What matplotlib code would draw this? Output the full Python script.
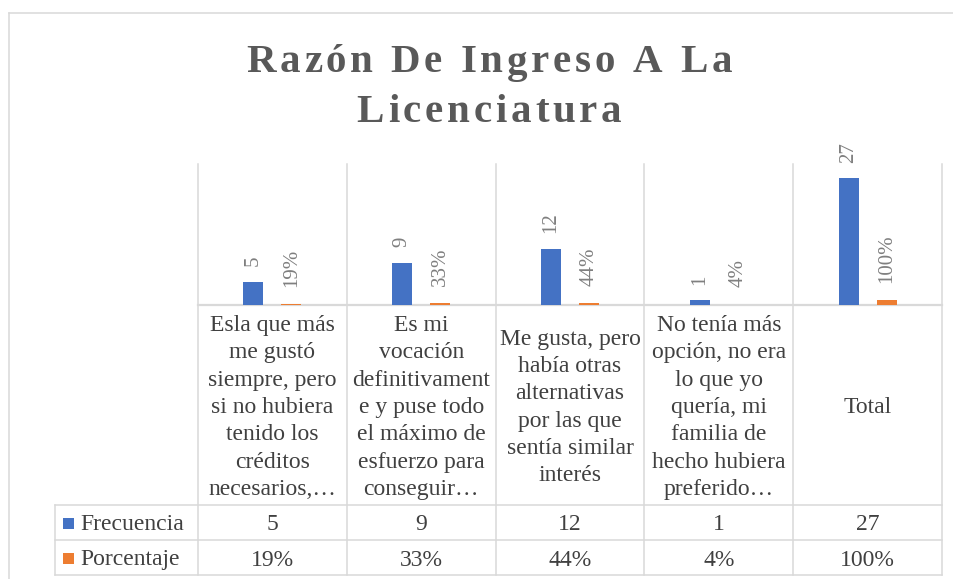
import matplotlib
matplotlib.use("Agg")
import matplotlib.pyplot as plt
from matplotlib.patches import Rectangle
from matplotlib.font_manager import FontProperties, findfont
from matplotlib.ft2font import FT2Font

# ---------------- data ----------------
categories = [
    "Esla que más\nme gustó\nsiempre, pero\nsi no hubiera\ntenido los\ncréditos\nnecesarios,…",
    "Es mi\nvocación\ndefinitivament\ne y puse todo\nel máximo de\nesfuerzo para\nconseguir…",
    "Me gusta, pero\nhabía otras\nalternativas\npor las que\nsentía similar\ninterés",
    "No tenía más\nopción, no era\nlo que yo\nquería, mi\nfamilia de\nhecho hubiera\npreferido…",
    "Total",
]
series_names = ["Frecuencia", "Porcentaje"]
frecuencia = [5, 9, 12, 1, 27]
porcentaje = [0.19, 0.33, 0.44, 0.04, 1.00]
title_lines = ["Razón De Ingreso A La", "Licenciatura"]

# ---------------- style ----------------
W, H = 954, 579
FONT = "Liberation Serif"
BLUE = "#4472C4"
ORANGE = "#ED7D31"
GRID = "#D9D9D9"
TXT = "#404040"
LBL = "#7F7F7F"
TITLE_C = "#595959"

plt.rcParams["font.family"] = [FONT, "DejaVu Sans"]

fig = plt.figure(figsize=(W / 100, H / 100), dpi=100)
fig.patch.set_facecolor("white")

# overlay in pixel coordinates
ov = fig.add_axes([0, 0, 1, 1])
ov.set_xlim(0, W)
ov.set_ylim(H, 0)
ov.axis("off")

# plot area geometry (pixels)
PL, PR, PT, PB = 198, 942, 164, 305
ROW1, ROW2, ROW3 = 505, 540, 575
SER_L = 55
n = len(categories)
cw = (PR - PL) / n

ax = fig.add_axes([PL / W, (H - PB) / H, (PR - PL) / W, (PB - PT) / H])
ax.set_xlim(-0.5, n - 0.5)
ax.set_ylim(0, 30)
ax.axis("off")
ax.patch.set_alpha(0)

bw = 0.135
off = 0.128
xs = list(range(n))
ax.bar([x - off for x in xs], frecuencia, width=bw, color=BLUE, zorder=3)
ax.bar([x + off for x in xs], porcentaje, width=bw, color=ORANGE, zorder=3)

for x, v in zip(xs, frecuencia):
    ax.annotate(f"{v}", (x - off, v), xytext=(0, 11), textcoords="offset points",
                rotation=90, ha="center", va="bottom", fontsize=15, color=LBL,
                fontfamily=FONT)
for x, v in zip(xs, porcentaje):
    ax.annotate(f"{v:.0%}", (x + off, v), xytext=(0, 12.5), textcoords="offset points",
                rotation=90, ha="center", va="bottom", fontsize=15, color=LBL,
                fontfamily=FONT)

# ---------------- grid / table lines ----------------
lw = 1.1
ov.plot([9.5, 9.5], [13, H], color=GRID, lw=lw)
ov.plot([9.5, W], [13, 13], color=GRID, lw=lw)
for i in range(n + 1):
    x = PL + i * cw
    ov.plot([x, x], [PT, ROW3], color=GRID, lw=lw, zorder=1)
ov.plot([PL, PR], [PB, PB], color=GRID, lw=1.6, zorder=1)
for y in (ROW1, ROW2, ROW3):
    ov.plot([SER_L, PR], [y, y], color=GRID, lw=lw, zorder=1)
ov.plot([SER_L, SER_L], [ROW1, ROW3], color=GRID, lw=lw, zorder=1)

# ---------------- category text ----------------
LINE = 27.3
cell_mid = (PB + ROW1) / 2 + 8
for i, cat in enumerate(categories):
    lines = cat.split("\n")
    cx = PL + (i + 0.5) * cw
    m = len(lines)
    for j, ln in enumerate(lines):
        y = cell_mid + (j - (m - 1) / 2) * LINE
        ov.text(cx, y, ln, ha="center", va="baseline", fontsize=17, color=TXT,
                fontfamily=FONT)

# ---------------- table rows ----------------
rows = [(frecuencia, lambda v: f"{v}"), (porcentaje, lambda v: f"{v:.0%}")]
row_tops = [ROW1, ROW2]
colors = [BLUE, ORANGE]
for r, ((vals, fmt), top) in enumerate(zip(rows, row_tops)):
    base = top + 17.5 + 8
    ov.add_patch(Rectangle((63, top + 13), 11, 11, color=colors[r], lw=0))
    ov.text(80, base, series_names[r], ha="left", va="baseline", fontsize=17,
            color=TXT, fontfamily=FONT)
    for i, v in enumerate(vals):
        cx = PL + (i + 0.5) * cw
        ov.text(cx, base, fmt(v), ha="center", va="baseline", fontsize=17,
                color=TXT, fontfamily=FONT)

# ---------------- title with letter spacing ----------------
TSIZE = 29.5
prop = FontProperties(family=FONT, weight="bold", size=TSIZE)
ft = FT2Font(findfont(prop), hinting_factor=1)
ft.set_size(TSIZE, 100)

def adv(ch):
    g = ft.load_char(ord(ch))
    return g.linearHoriAdvance / 65536.0

SPACING = 3.8
TCX = 489
baselines = [72.5, 122.5]
for line, yb in zip(title_lines, baselines):
    advs = [adv(c) for c in line]
    total = sum(advs) + SPACING * (len(line) - 1)
    x = TCX - total / 2
    for c, a in zip(line, advs):
        if c != " ":
            ov.text(x, yb, c, ha="left", va="baseline", fontsize=TSIZE,
                    fontweight="bold", color=TITLE_C, fontfamily=FONT)
        x += a + SPACING

fig.savefig("out.png", dpi=100, facecolor="white")
